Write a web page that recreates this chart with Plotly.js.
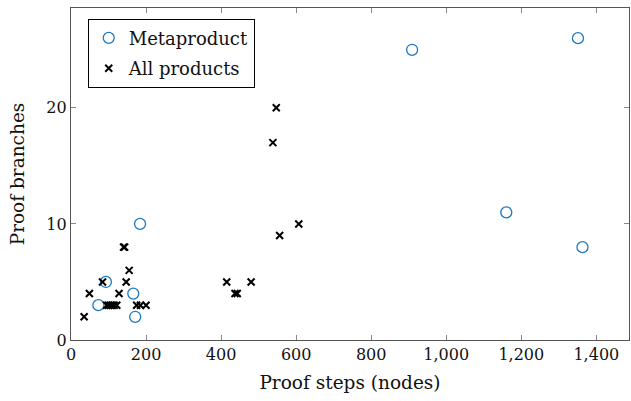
<!DOCTYPE html>
<html>
<head>
<meta charset="utf-8">
<script src="https://cdn.plot.ly/plotly-3.0.1.min.js"></script>
<style>html,body{margin:0;padding:0;background:#fff;}#chart{width:631px;height:401px;}</style>
</head>
<body>
<div id="chart"></div>
<script>
const metaX = [73, 93, 166, 171, 184, 909, 1160, 1351, 1363];
const metaY = [3, 5, 4, 2, 10, 25, 11, 26, 8];
const allX = [35, 49, 84, 95, 100, 105, 110, 115, 122, 128, 140, 143, 147, 155, 175, 185, 200, 415, 437, 443, 480, 538, 547, 556, 607];
const allY = [2, 4, 5, 3, 3, 3, 3, 3, 3, 4, 8, 8, 5, 6, 3, 3, 3, 5, 4, 4, 5, 17, 20, 9, 10];
const xTicks = [0, 200, 400, 600, 800, 1000, 1200, 1400];
const yTicks = [0, 10, 20];
const xLabel = 'Proof steps (nodes)';
const yLabel = 'Proof branches';
const names = ['Metaproduct', 'All products'];

const serif = 'DejaVu Serif';
const traces = [
  {x: metaX, y: metaY, name: names[0], legendgroup: 'a', mode: 'markers', type: 'scatter',
   marker: {symbol: 'circle-open', size: 11, color: '#1f78c1', line: {width: 1.3, color: '#1f78c1'}}},
  {x: allX, y: allY, name: names[1], legendgroup: 'b', mode: 'markers', type: 'scatter',
   marker: {symbol: 'x-thin-open', size: 7, color: '#000', line: {width: 2, color: '#000'}}}
];
const axisCommon = {
  showgrid: false, zeroline: false, showline: true, linecolor: '#555', linewidth: 1.2,
  mirror: 'allticks', ticks: 'inside', ticklen: 5, tickcolor: '#888', tickwidth: 1,
  tickfont: {family: serif, size: 16, color: '#111'}
};
const layout = {
  width: 631, height: 401,
  margin: {l: 71, r: 2, t: 8, b: 61},
  paper_bgcolor: '#fff', plot_bgcolor: '#fff',
  showlegend: true,
  legend: {x: 0.03, y: 0.968, xanchor: 'left', yanchor: 'top', bgcolor: '#fff',
           bordercolor: '#000', borderwidth: 1, font: {family: serif, size: 18, color: '#111'},
           itemwidth: 30, tracegroupgap: 4},
  xaxis: Object.assign({}, axisCommon, {range: [0, 1487], tickvals: xTicks, tickformat: ',d',
    title: {text: xLabel, font: {family: serif, size: 18.5, color: '#111'}, standoff: 12}}),
  yaxis: Object.assign({}, axisCommon, {range: [0, 28.6], tickvals: yTicks,
    title: {text: yLabel, font: {family: serif, size: 18.5, color: '#111'}, standoff: 16}})
};
Plotly.newPlot('chart', traces, layout, {displayModeBar: false, staticPlot: true});
</script>
</body>
</html>
